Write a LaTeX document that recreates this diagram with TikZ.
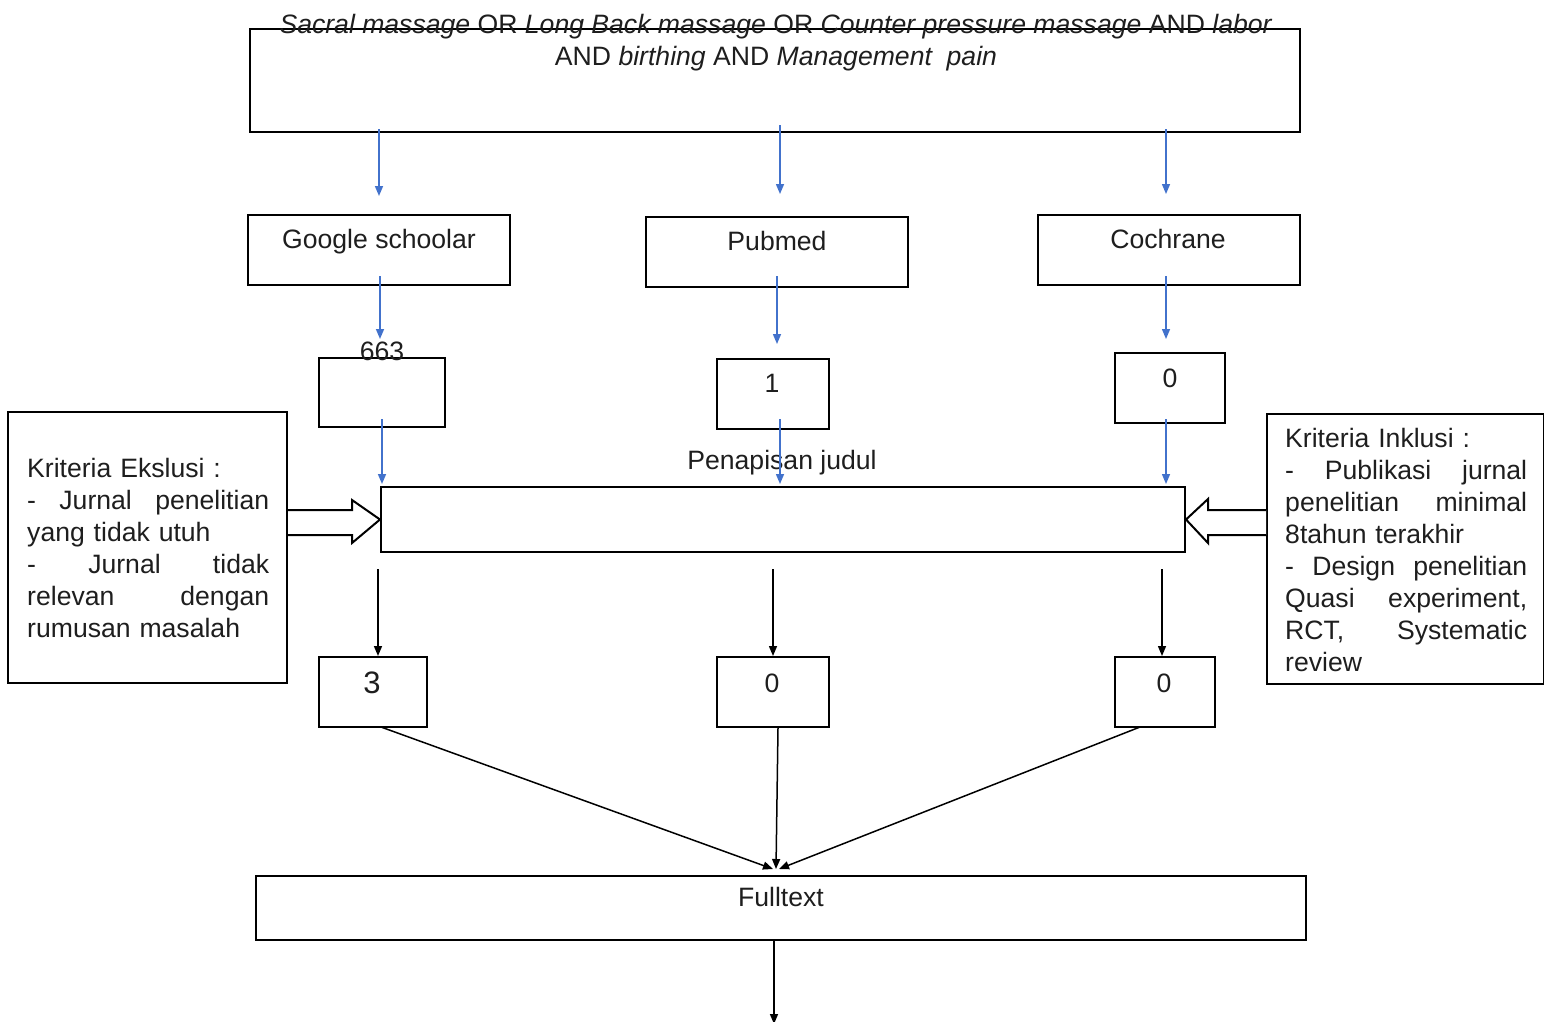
\documentclass[tikz,border=0pt]{standalone}
\usepackage{fontspec}
\setmainfont{Liberation Sans}
\usetikzlibrary{arrows.meta}
\definecolor{lblue}{RGB}{66,114,204}
\definecolor{txt}{RGB}{30,30,30}
\begin{document}
\begin{tikzpicture}[x=1pt,y=-1pt,
  box/.style={draw=black,line width=2pt,inner sep=0pt},
  lbl/.style={inner sep=0pt,anchor=base,text=txt,font=\fontsize{26.6}{32}\selectfont},
  barrow/.style={draw=lblue,line width=1.5pt,-{Triangle[length=10pt,width=8pt]}},
  karrow/.style={draw=black,line width=1.5pt,-{Triangle[length=10pt,width=8pt]}},
  hollow/.style={draw=black,line width=2pt,fill=white,line join=miter}]
\useasboundingbox (0,0) rectangle (1544,1021);

% boxes
\node[box,minimum width=1050,minimum height=103] (top) at (775,80.5) {};
\node[box,minimum width=262,minimum height=70] (gs) at (379,250) {};
\node[box,minimum width=262,minimum height=70] (pm) at (777,252) {};
\node[box,minimum width=262,minimum height=70] (co) at (1169,250) {};
\node[box,minimum width=126,minimum height=69] (n663) at (382,392.5) {};
\node[box,minimum width=112,minimum height=70] (n1) at (773,394) {};
\node[box,minimum width=110,minimum height=70] (n0) at (1170,388) {};
\node[box,minimum width=804,minimum height=65] (main) at (783,519.5) {};
\node[box,minimum width=279,minimum height=271] (ex) at (147.5,547.5) {};
\node[box,minimum width=277,minimum height=270] (inc) at (1405.5,549) {};
\node[box,minimum width=108,minimum height=70] (b3) at (373,692) {};
\node[box,minimum width=112,minimum height=70] (b0) at (773,692) {};
\node[box,minimum width=100,minimum height=70] (b0r) at (1165,692) {};
\node[box,minimum width=1050,minimum height=64] (full) at (781,908) {};

% texts
\node[inner sep=0pt,anchor=north,align=center,text=txt,font=\fontsize{26.6}{32}\selectfont] (toptxt) at (776,14)
  {\textit{Sacral massage} OR \textit{Long Back massage} OR \textit{Counter pressure massage} AND \textit{labor}\\
   AND \textit{birthing} AND \textit{Management\ \ pain}};
\node[lbl] (gst) at (379,248) {Google schoolar};
\node[lbl] (pmt) at (777,250) {Pubmed};
\node[lbl] (cot) at (1168,248) {Cochrane};
\node[lbl] (t663) at (382,360) {663};
\node[lbl] (t1) at (772,392) {1};
\node[lbl] (t0) at (1170,387) {0};
\node[lbl] (tpj) at (782,469) {Penapisan judul};
\node[lbl,font=\fontsize{31}{36}\selectfont] (t3) at (372,693) {3};
\node[lbl] (tb0) at (772,692) {0};
\node[lbl] (tb0r) at (1164,692) {0};
\node[lbl] (tfull) at (781,906) {Fulltext};

\node[inner sep=0pt,anchor=north west,text width=242pt,align=left,text=txt,font=\fontsize{26.6}{32}\selectfont] (ext) at (27,458)
  {Kriteria Ekslusi :\\
   \makebox[242pt][s]{-\hfill Jurnal\hfill penelitian}\\
   yang tidak utuh\\
   \makebox[242pt][s]{-\hfill Jurnal\hfill tidak}\\
   \makebox[242pt][s]{relevan\hfill dengan}\\
   rumusan masalah};
\node[inner sep=0pt,anchor=north west,text width=242pt,align=left,text=txt,font=\fontsize{26.6}{32}\selectfont] (inct) at (1285,428)
  {Kriteria Inklusi :\\
   \makebox[242pt][s]{-\hfill Publikasi\hfill jurnal}\\
   \makebox[242pt][s]{penelitian\hfill minimal}\\
   8tahun terakhir\\
   \makebox[242pt][s]{-\hfill Design\hfill penelitian}\\
   \makebox[242pt][s]{Quasi\hfill experiment,}\\
   \makebox[242pt][s]{RCT,\hfill Systematic}\\
   review};

% blue arrows
\draw[barrow,shorten <=-4pt,shorten >=18pt] (top.south -| gs.north) -- (gs.north);
\draw[barrow,shorten <=-8pt,shorten >=22pt] ([xshift=3pt]top.south -| pm.north) -- ([xshift=3pt]pm.north);
\draw[barrow,shorten <=-4pt,shorten >=20pt] ([xshift=-3pt]top.south -| co.north) -- ([xshift=-3pt]co.north);

\draw[barrow,shorten <=-10pt,shorten >=18pt] ([xshift=1pt]gs.south) -- ([xshift=1pt]gs.south |- n663.north);
\draw[barrow,shorten <=-12pt,shorten >=14pt] (pm.south) -- (pm.south |- n1.north);
\draw[barrow,shorten <=-10pt,shorten >=13pt] ([xshift=-3pt]co.south) -- ([xshift=-3pt]co.south |- n0.north);

\draw[barrow,shorten <=-9pt,shorten >=2pt] (n663.south) -- (n663.south |- main.north);
\draw[barrow,shorten <=-11pt,shorten >=2pt] ([xshift=7pt]n1.south) -- ([xshift=7pt]n1.south |- main.north);
\draw[barrow,shorten <=-5pt,shorten >=2pt] ([xshift=-4pt]n0.south) -- ([xshift=-4pt]n0.south |- main.north);

% hollow arrows
\draw[hollow] (ex.east |- 0,510) -- (352,510) -- (352,500) -- (main.west) -- (352,543) -- (352,535) -- (ex.east |- 0,535);
\draw[hollow] (inc.west |- 0,510) -- (1208,510) -- (1208,499) -- (main.east) -- (1208,543) -- (1208,535) -- (inc.west |- 0,535);

% black arrows
\draw[karrow,shorten <=16pt] (main.south -| 378,0) -- (b3.north -| 378,0);
\draw[karrow,shorten <=16pt] (main.south -| b0.north) -- (b0.north);
\draw[karrow,shorten <=16pt] (main.south -| 1162,0) -- (b0r.north -| 1162,0);

\coordinate (m1) at (773,869);
\coordinate (m2) at (776,869);
\coordinate (m3) at (779,869);
\draw[karrow] (381,727) -- (m1);
\draw[karrow] (b0.south -| 778,0) -- (m2);
\draw[karrow] (1140,727) -- (m3);

\coordinate (bend) at (774,1024);
\draw[karrow] (full.south -| bend) -- (bend);
\end{tikzpicture}
\end{document}
